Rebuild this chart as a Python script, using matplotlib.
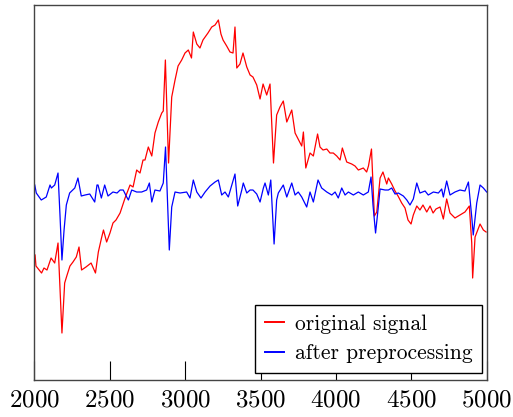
"""ECG segment before and after preprocessing (baseline removal)."""
import matplotlib
matplotlib.use("Agg")
import matplotlib.pyplot as plt

plt.rcParams["font.family"] = ["cmr10", "DejaVu Serif"]
plt.rcParams["axes.formatter.use_mathtext"] = True

# original signal (sample index, amplitude)
raw_x = [2007, 2013, 2050, 2066, 2086, 2113, 2137, 2159, 2185, 2203, 2219, 2238,
         2258, 2280, 2298, 2315, 2344, 2378, 2407, 2426, 2447, 2460, 2481, 2503,
         2523, 2543, 2570, 2603, 2636, 2656, 2680, 2702, 2722, 2735, 2757, 2780,
         2801, 2823, 2846, 2856, 2870, 2891, 2912, 2934, 2954, 2978, 3000, 3022,
         3043, 3055, 3078, 3099, 3119, 3133, 3152, 3177, 3199, 3221, 3238, 3252,
         3276, 3298, 3318, 3331, 3343, 3364, 3384, 3409, 3431, 3450, 3475, 3497,
         3517, 3541, 3563, 3586, 3607, 3629, 3651, 3674, 3707, 3729, 3773, 3784,
         3800, 3828, 3850, 3878, 3894, 3914, 3939, 3960, 3982, 4005, 4027, 4042,
         4071, 4104, 4126, 4148, 4181, 4203, 4215, 4235, 4254, 4270, 4292, 4311,
         4336, 4347, 4369, 4391, 4411, 4435, 4457, 4477, 4497, 4512, 4535, 4556,
         4576, 4601, 4623, 4643, 4662, 4689, 4711, 4733, 4755, 4788, 4821, 4854,
         4883, 4899, 4905, 4921, 4954, 4976, 4994]
raw_y = [-1.30, -1.52, -1.66, -1.56, -1.60, -1.36, -1.46, -1.06, -2.86, -1.86, -1.70, -1.52,
         -1.44, -1.34, -1.14, -1.60, -1.54, -1.46, -1.66, -1.24, -0.96, -0.80, -1.04, -0.86,
         -0.66, -0.60, -0.46, -0.16, 0.10, 0.06, 0.40, 0.34, 0.60, 0.60, 0.86, 0.68,
         1.14, 1.36, 1.54, 1.58, 2.60, 0.54, 1.86, 2.20, 2.48, 2.60, 2.74, 2.80,
         2.64, 3.16, 2.92, 2.84, 3.00, 3.06, 3.14, 3.26, 3.30, 3.40, 3.12, 3.00,
         2.88, 2.76, 2.74, 3.26, 2.44, 2.52, 2.74, 2.46, 2.30, 2.26, 2.10, 1.82,
         2.12, 1.90, 2.12, 0.54, 1.50, 1.66, 1.78, 1.36, 1.60, 1.14, 0.88, 1.16,
         0.44, 0.74, 0.68, 1.12, 0.86, 0.80, 0.82, 0.74, 0.74, 0.68, 0.60, 0.84,
         0.56, 0.52, 0.48, 0.40, 0.44, 0.36, 0.48, 0.82, -0.52, -0.44, 0.24, 0.36,
         0.12, 0.24, 0.12, -0.02, -0.12, -0.26, -0.36, -0.60, -0.68, -0.50, -0.32, -0.40,
         -0.30, -0.44, -0.32, -0.46, -0.38, -0.34, -0.58, -0.18, -0.46, -0.56, -0.50, -0.44,
         -0.32, -1.06, -1.76, -0.94, -0.68, -0.80, -0.84]

# after preprocessing
pre_x = [2005, 2015, 2048, 2081, 2106, 2115, 2137, 2159, 2172, 2185, 2199, 2214,
         2236, 2270, 2291, 2313, 2338, 2369, 2402, 2417, 2424, 2446, 2468, 2490,
         2523, 2550, 2570, 2591, 2614, 2625, 2647, 2680, 2713, 2746, 2764, 2780,
         2801, 2834, 2856, 2871, 2884, 2896, 2912, 2934, 2967, 3011, 3033, 3055,
         3078, 3106, 3133, 3166, 3199, 3221, 3243, 3265, 3287, 3331, 3349, 3376,
         3386, 3409, 3431, 3450, 3475, 3497, 3519, 3530, 3552, 3568, 3590, 3607,
         3618, 3651, 3674, 3707, 3729, 3750, 3773, 3806, 3828, 3850, 3881, 3905,
         3939, 3972, 3994, 4015, 4038, 4060, 4082, 4115, 4148, 4181, 4214, 4232,
         4245, 4262, 4276, 4292, 4325, 4347, 4369, 4391, 4413, 4446, 4469, 4490,
         4512, 4535, 4556, 4590, 4611, 4645, 4678, 4700, 4711, 4733, 4755, 4788,
         4821, 4854, 4877, 4899, 4909, 4932, 4954, 4976, 4998]
pre_y = [0.10, -0.06, -0.20, -0.14, 0.10, 0.04, 0.10, 0.34, -0.50, -1.40, -0.80, -0.30,
         -0.06, 0.04, 0.24, -0.12, -0.10, -0.08, -0.24, 0.10, 0.10, -0.16, 0.10, -0.12,
         -0.04, -0.06, 0.00, 0.00, -0.14, -0.20, 0.00, -0.04, -0.04, 0.00, 0.14, -0.24,
         0.00, -0.02, 0.14, 0.86, -0.20, -1.20, -0.34, -0.04, -0.06, -0.04, -0.16, 0.20,
         -0.04, -0.16, -0.04, 0.08, 0.16, 0.20, -0.10, -0.04, -0.14, 0.32, -0.32, 0.00,
         0.14, -0.06, 0.00, 0.00, -0.08, -0.24, 0.04, 0.14, -0.10, 0.20, -1.08, -0.20,
         -0.06, 0.10, -0.14, 0.14, -0.10, -0.04, -0.14, -0.34, -0.04, -0.24, 0.20, 0.04,
         -0.04, -0.10, -0.04, -0.16, 0.04, -0.10, -0.04, -0.10, -0.04, -0.10, -0.04, 0.26,
         -0.30, -0.86, -0.46, 0.02, 0.00, 0.00, 0.04, -0.08, -0.06, -0.12, -0.20, -0.30,
         -0.18, 0.14, -0.06, -0.02, -0.10, -0.04, -0.06, 0.02, -0.14, 0.18, -0.10, -0.04,
         0.00, -0.02, 0.16, -0.54, -0.90, -0.26, 0.10, 0.04, -0.04]

fig = plt.figure(figsize=(5.13, 4.17), dpi=100)
ax = fig.add_axes([0.0663, 0.0887, 0.883, 0.8993])

ax.plot(raw_x, raw_y, color="red", linewidth=0.9, label="original signal")
ax.plot(pre_x, pre_y, color="blue", linewidth=0.9, label="after preprocessing")

ax.set_xlim(2000, 5000)
ax.set_ylim(-3.8, 3.7)
ax.set_xticks([2000, 2500, 3000, 3500, 4000, 4500, 5000])
ax.set_yticks([])
ax.tick_params(axis="x", direction="in", length=13.7, width=0.8,
               labelsize=18, pad=7, color="black")
for s in ax.spines.values():
    s.set_color("#444444")
    s.set_linewidth(1.0)

leg = ax.legend(loc="lower right", bbox_to_anchor=(0.989, 0.019), borderaxespad=0,
                fontsize=15.5, fancybox=False, framealpha=1, edgecolor="black",
                handlelength=0.9, handletextpad=0.5, borderpad=0.45,
                labelspacing=0.45)
leg.get_frame().set_linewidth(1.0)
for h in leg.get_lines():
    h.set_linewidth(1.4)

fig.savefig("out.png", dpi=100)
